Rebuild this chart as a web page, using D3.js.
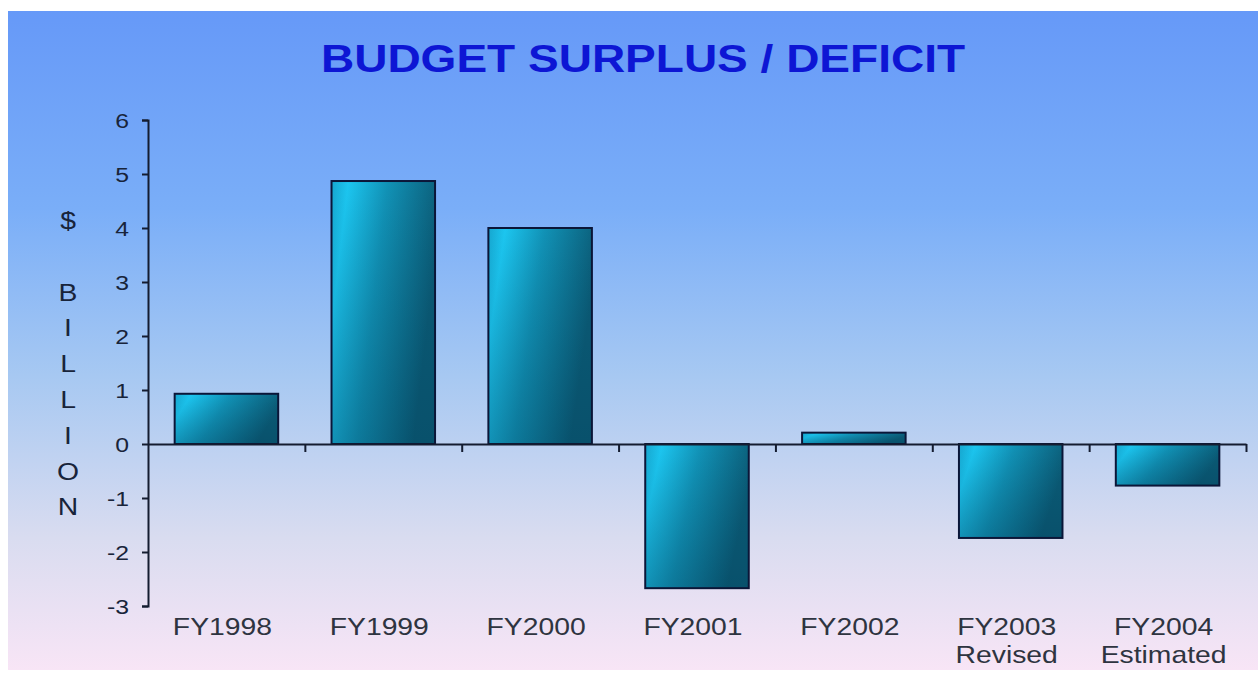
<!DOCTYPE html>
<html>
<head>
<meta charset="utf-8">
<script src="https://cdn.jsdelivr.net/npm/d3@7"></script>
<style>
  html, body { margin: 0; padding: 0; background: #fff; }
  svg { display: block; }
</style>
</head>
<body>
<svg id="chart" width="1258" height="674"></svg>
<script>
'use strict';

const categories = ['FY1998', 'FY1999', 'FY2000', 'FY2001', 'FY2002', 'FY2003', 'FY2004'];
const subLabels = ['', '', '', '', '', 'Revised', 'Estimated'];
const values = [0.93, 4.87, 4.0, -2.67, 0.21, -1.74, -0.77];
const yTicks = [6, 5, 4, 3, 2, 1, 0, -1, -2, -3];
const yLabelLetters = ['$', '', 'B', 'I', 'L', 'L', 'I', 'O', 'N'];
const title = 'BUDGET SURPLUS / DEFICIT';

// the source picture is stretched sideways, so text is widened a bit
const stretch = 1.18;

const svg = d3.select('#chart');
const margin = { left: 148, right: 12, top: 120, bottom: 68 };
const width = 1258;
const height = 674;

const defs = svg.append('defs');

const bg = defs.append('linearGradient')
    .attr('id', 'bg')
    .attr('x1', 0).attr('y1', 0).attr('x2', 0).attr('y2', 1);
[[0, '#6699f8'], [0.3, '#7aaef8'], [0.55, '#a6c8f2'], [0.8, '#d9dcf0'], [1, '#f8e5f6']].forEach((s) => {
    bg.append('stop').attr('offset', s[0]).attr('stop-color', s[1]);
});

const barH = defs.append('linearGradient')
    .attr('id', 'barH')
    .attr('x1', 0).attr('y1', 0).attr('x2', 1).attr('y2', 0.3);
[[0, '#16a6cf'], [0.15, '#1cc6f0'], [0.5, '#1192b6'], [1, '#0b5c77']].forEach((s) => {
    barH.append('stop').attr('offset', s[0]).attr('stop-color', s[1]);
});

const barV = defs.append('linearGradient')
    .attr('id', 'barV')
    .attr('x1', 0).attr('y1', 0).attr('x2', 0).attr('y2', 1);
barV.append('stop').attr('offset', 0).attr('stop-color', '#00304a').attr('stop-opacity', 0);
barV.append('stop').attr('offset', 1).attr('stop-color', '#00304a').attr('stop-opacity', 0.25);

// background panel
svg.append('rect')
    .attr('x', 8)
    .attr('y', 11)
    .attr('width', width - 8)
    .attr('height', 659)
    .attr('fill', 'url(#bg)');

svg.append('text')
    .attr('transform', `translate(643,72) scale(${stretch},1)`)
    .attr('text-anchor', 'middle')
    .style('font-family', 'Liberation Sans, Arial, sans-serif')
    .style('font-weight', 'bold')
    .style('font-size', '39px')
    .style('fill', '#0d16d4')
    .text(title);

const x = d3.scaleBand()
    .domain(categories)
    .range([margin.left, width - margin.right])
    .paddingInner(0.34)
    .paddingOuter(0.17);

const y = d3.scaleLinear()
    .domain([-3, 6])
    .range([height - margin.bottom, margin.top]);

// bars
const bars = svg.append('g').selectAll('g.bar')
    .data(values)
    .enter().append('g')
    .attr('class', 'bar');

bars.append('rect')
    .attr('x', (d, i) => x(categories[i]))
    .attr('y', (d) => y(Math.max(0, d)))
    .attr('width', x.bandwidth())
    .attr('height', (d) => Math.abs(y(d) - y(0)))
    .attr('fill', 'url(#barH)');

bars.append('rect')
    .attr('x', (d, i) => x(categories[i]))
    .attr('y', (d) => y(Math.max(0, d)))
    .attr('width', x.bandwidth())
    .attr('height', (d) => Math.abs(y(d) - y(0)))
    .attr('fill', 'url(#barV)')
    .attr('stroke', '#0b1638')
    .attr('stroke-width', 2);

// zero line with ticks between the categories
const bounds = d3.scaleLinear()
    .domain([0, categories.length])
    .range([margin.left, width - margin.right]);

const zeroAxis = svg.append('g')
    .attr('transform', `translate(0,${y(0)})`)
    .call(d3.axisBottom(bounds)
        .tickValues(d3.range(1, categories.length + 1))
        .tickFormat('')
        .tickSizeInner(8)
        .tickSizeOuter(0));
zeroAxis.selectAll('path, line')
    .attr('stroke', '#141c30')
    .attr('stroke-width', 2);

// y axis
const yAxis = svg.append('g')
    .attr('transform', `translate(${margin.left},0)`)
    .call(d3.axisLeft(y)
        .tickValues(yTicks)
        .tickFormat((d) => String(d))
        .tickSizeInner(6)
        .tickSizeOuter(6));
yAxis.selectAll('path, line')
    .attr('stroke', '#141c30')
    .attr('stroke-width', 2);
yAxis.selectAll('text')
    .attr('x', -16)
    .attr('dy', '0.36em')
    .attr('transform', `scale(${stretch},1)`)
    .style('font-family', 'Liberation Sans, Arial, sans-serif')
    .style('font-size', '21px')
    .style('fill', '#18243a');

// category labels along the bottom
const labels = svg.append('g').selectAll('text.cat')
    .data(categories)
    .enter().append('text')
    .attr('class', 'cat')
    .attr('transform', (d) => `translate(${x(d) + x.bandwidth() / 2 - 4},635) scale(${stretch},1)`)
    .attr('text-anchor', 'middle')
    .style('font-family', 'Liberation Sans, Arial, sans-serif')
    .style('font-size', '24px')
    .style('fill', '#2e3440');

labels.append('tspan')
    .attr('x', 0)
    .text((d) => d);

labels.append('tspan')
    .attr('x', 0)
    .attr('dy', 28)
    .text((d, i) => subLabels[i]);

// vertical axis title, one letter per line
svg.append('g').selectAll('text.ylab')
    .data(yLabelLetters)
    .enter().append('text')
    .attr('class', 'ylab')
    .attr('transform', (d, i) => `translate(68,${229 + i * 35.8}) scale(${stretch},1)`)
    .attr('text-anchor', 'middle')
    .style('font-family', 'Liberation Sans, Arial, sans-serif')
    .style('font-size', '24px')
    .style('fill', '#18243a')
    .text((d) => d);
</script>
</body>
</html>
